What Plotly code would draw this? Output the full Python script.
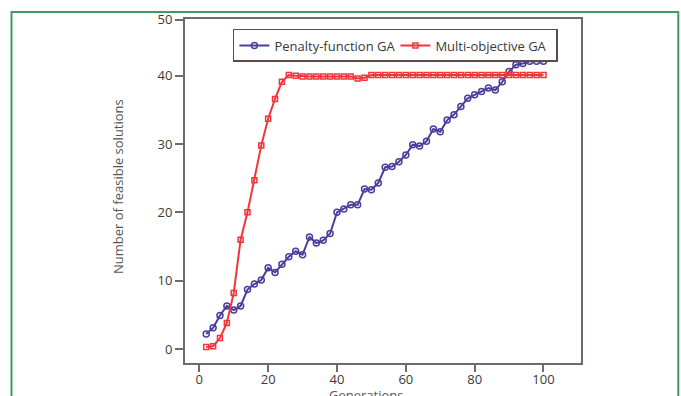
import plotly.graph_objects as go

generations = list(range(2, 101, 2))

penalty_ga = [2.2, 3.1, 4.9, 6.3, 5.7, 6.3, 8.7, 9.5, 10.1, 11.9,
              11.2, 12.4, 13.5, 14.3, 13.8, 16.4, 15.5, 15.9, 16.9, 20.0,
              20.5, 21.1, 21.1, 23.4, 23.3, 24.3, 26.6, 26.7, 27.4, 28.4,
              29.9, 29.7, 30.4, 32.2, 31.8, 33.5, 34.3, 35.5, 36.7, 37.2,
              37.7, 38.2, 37.9, 39.1, 40.6, 41.6, 41.8, 42.1, 42.1, 42.1]

multi_ga = [0.3, 0.4, 1.6, 3.8, 8.2, 16.0, 20.0, 24.7, 29.8, 33.7,
            36.6, 39.1, 40.1, 40.0, 39.9, 39.9, 39.9, 39.9, 39.9, 39.9,
            39.9, 39.9, 39.6, 39.7, 40.1, 40.1, 40.1, 40.1, 40.1, 40.1,
            40.1, 40.1, 40.1, 40.1, 40.1, 40.1, 40.1, 40.1, 40.1, 40.1,
            40.1, 40.1, 40.1, 40.1, 40.1, 40.1, 40.1, 40.1, 40.1, 40.1]

x_tickvals = [0, 20, 40, 60, 80, 100]
y_tickvals = [0, 10, 20, 30, 40, 48.2]
y_ticktext = ["0", "10", "20", "30", "40", "50"]

BLUE = "#4a3f9e"
RED = "#f2353b"
AXIS = "#75686a"
FONT = "Open Sans"
FS = 13

fig = go.Figure()
fig.add_trace(go.Scatter(
    x=generations, y=penalty_ga, name="Penalty-function GA",
    mode="lines+markers",
    line=dict(color=BLUE, width=2),
    marker=dict(symbol="circle-open", size=6, color=BLUE, line=dict(width=1.5)),
))
fig.add_trace(go.Scatter(
    x=generations, y=multi_ga, name="Multi-objective GA",
    mode="lines+markers",
    line=dict(color=RED, width=2),
    marker=dict(symbol="square-open", size=5, color=RED, line=dict(width=1.5)),
))

fig.update_layout(
    width=681, height=396,
    margin=dict(l=185, r=100, t=19, b=33, autoexpand=False),
    paper_bgcolor="white", plot_bgcolor="white",
    font=dict(family=FONT, size=FS, color="#3a3a3a"),
    showlegend=True,
    legend=dict(
        orientation="h", x=0.121, y=0.971, xanchor="left", yanchor="top",
        bordercolor="#5a4c4a", borderwidth=1.5, bgcolor="white",
        font=dict(family=FONT, size=FS, color="#3a3a3a"),
        itemwidth=30, tracegroupgap=0, entrywidth=116, entrywidthmode="pixels",
    ),
    xaxis=dict(
        range=[-4.16, 110.9], tickvals=x_tickvals, automargin=False,
        showgrid=False, zeroline=False,
        showline=True, linecolor=AXIS, linewidth=2, mirror=True,
        ticks="outside", ticklen=7, tickwidth=1.5, tickcolor=AXIS,
        ticklabelstandoff=-4,
        tickfont=dict(size=FS, color="#3a3a3a"),
    ),
    yaxis=dict(
        range=[-2.05, 48.3], tickvals=y_tickvals, ticktext=y_ticktext,
        automargin=False,
        showgrid=False, zeroline=False,
        showline=True, linecolor=AXIS, linewidth=2, mirror=True,
        ticks="outside", ticklen=8, tickwidth=1.5, tickcolor=AXIS,
        tickfont=dict(size=FS, color="#3a3a3a"),
    ),
    annotations=[
        dict(text="Number of feasible solutions", xref="paper", yref="paper",
             x=(118 - 185) / 396, y=(363 - 187) / 344, textangle=-90,
             showarrow=False, xanchor="center", yanchor="middle",
             font=dict(family=FONT, size=FS, color="#555555")),
        dict(text="Generations", xref="paper", yref="paper",
             x=(366 - 185) / 396, y=(363 - 384) / 344,
             showarrow=False, xanchor="center", yanchor="top",
             font=dict(family=FONT, size=FS, color="#555555")),
    ],
    shapes=[
        dict(type="rect", xref="paper", yref="paper",
             x0=(11.5 - 185) / 396, x1=(678.3 - 185) / 396,
             y0=-0.3, y1=(363 - 12) / 344,
             line=dict(color="#3d9a62", width=2), layer="below"),
    ],
)

fig.write_html("out.html")
